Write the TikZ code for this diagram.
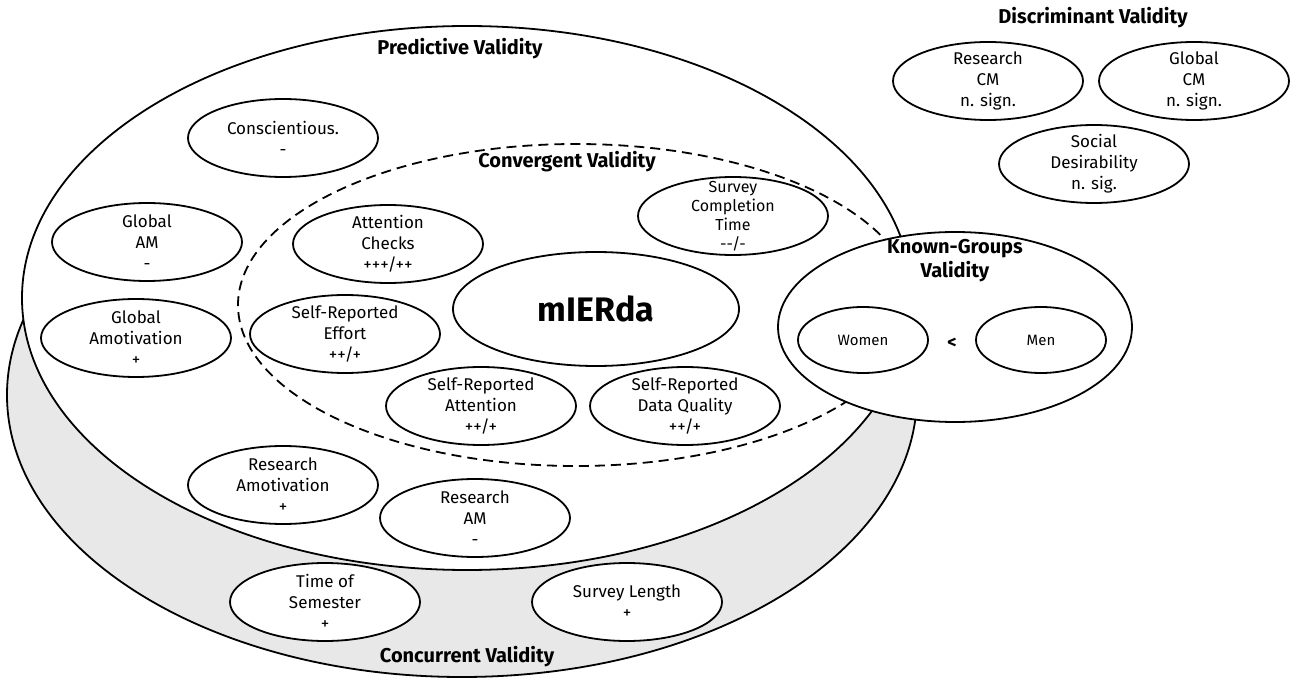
\documentclass[tikz,border=0pt]{standalone}
\usepackage{fontspec}
\setmainfont{Fira Sans}
\usetikzlibrary{shapes.geometric}
\definecolor{bandgray}{RGB}{232,232,232}
\tikzset{
  ln/.style={line width=1.8pt},
  oval/.style={ellipse, draw, line width=1.8pt, fill=white, minimum width=190pt, minimum height=78pt, inner sep=0pt},
  smoval/.style={oval, minimum width=130pt, minimum height=66pt},
  lbl/.style={align=center, font=\fontsize{17}{21}\selectfont, inner sep=0pt},
  lblsm/.style={align=center, font=\fontsize{16}{19}\selectfont, inner sep=0pt},
  lblxs/.style={align=center, font=\fontsize{15}{18}\selectfont, inner sep=0pt},
  ttl/.style={align=center, font=\fontsize{20}{24}\selectfont\bfseries, inner sep=0pt},
}
\begin{document}
\begin{tikzpicture}[x=1pt,y=-1pt]
\useasboundingbox (0,0) rectangle (1291,679);
% concurrent band
\path[draw, ln, fill=bandgray] (462,395) ellipse [x radius=455pt, y radius=282pt];
% predictive
\path[draw, ln, fill=white] (467,298) ellipse [x radius=445pt, y radius=272pt];
% convergent
\path[draw, ln, dash pattern=on 10pt off 6pt] (576,305) ellipse [x radius=338pt, y radius=161pt];

\node[ttl] (tpred) at (460,49) {Predictive Validity};
\node[ttl] (tconv) at (567,162) {Convergent Validity};
\node[ttl] (tconc) at (467,657) {Concurrent Validity};
\node[ttl] (tdisc) at (1093,18) {Discriminant Validity};

% predictive nodes
\node[oval, label={[lbl]center:Conscientious.\\-}] (consc) at (283,138) {};
\node[oval, label={[lbl]center:Global\\AM\\-}] (gam) at (147,242) {};
\node[oval, label={[lbl]center:Global\\Amotivation\\+}] (gamot) at (136,338) {};
\node[oval, label={[lbl]center:Research\\Amotivation\\+}] (ramot) at (283,485) {};
\node[oval, label={[lbl]center:Research\\AM\\-}] (ram) at (475,518) {};

% convergent nodes
\node[oval, label={[lbl]center:Attention\\Checks\\+++/++}] (attn) at (388,244) {};
\node[oval, label={[lblsm]center:Survey\\Completion\\Time\\-{}-/-}] (sct) at (733,216) {};
\node[oval, label={[lbl]center:Self-Reported\\Effort\\++/+}] (sre) at (345,334) {};
\node[oval, minimum width=286pt, minimum height=114pt, font=\fontsize{34}{40}\selectfont\bfseries] (mierda) at (596,309) {mIERda};
\node[oval, label={[lbl]center:Self-Reported\\Attention\\++/+}] (sra) at (481,406) {};
\node[oval, label={[lbl]center:Self-Reported\\Data Quality\\++/+}] (srdq) at (685,406) {};

% concurrent nodes
\node[oval, label={[lbl]center:Time of\\Semester\\+}] (tos) at (325,602) {};
\node[oval, label={[lbl]center:Survey Length\\+}] (sl) at (627,602) {};

% known groups
\node[oval, minimum width=354pt, minimum height=190pt] (kg) at (955,327) {};
\node[ttl] (tkg) at (955,261) {Known-Groups\\Validity};
\node[smoval, label={[lblxs]center:Women}] (women) at (863,340) {};
\node[smoval, label={[lblxs]center:Men}] (men) at (1041,340) {};
\node[font=\fontsize{18}{20}\selectfont\bfseries, inner sep=0pt] (lt) at (952,343) {<};

% discriminant
\node[oval, label={[lbl]center:Research\\CM\\n. sign.}] (rcm) at (988,81) {};
\node[oval, label={[lbl]center:Global\\CM\\n. sign.}] (gcm) at (1194,81) {};
\node[oval, label={[lbl]center:Social\\Desirability\\n. sig.}] (sd) at (1094,164) {};
\end{tikzpicture}
\end{document}
